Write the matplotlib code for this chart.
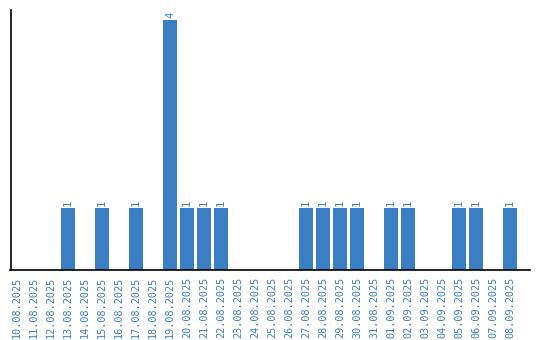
import numpy as np
import matplotlib
matplotlib.use('Agg')
import matplotlib.pyplot as plt

dates = ['10.08.2025', '11.08.2025', '12.08.2025', '13.08.2025', '14.08.2025',
         '15.08.2025', '16.08.2025', '17.08.2025', '18.08.2025', '19.08.2025',
         '20.08.2025', '21.08.2025', '22.08.2025', '23.08.2025', '24.08.2025',
         '25.08.2025', '26.08.2025', '27.08.2025', '28.08.2025', '29.08.2025',
         '30.08.2025', '31.08.2025', '01.09.2025', '02.09.2025', '03.09.2025',
         '04.09.2025', '05.09.2025', '06.09.2025', '07.09.2025', '08.09.2025']
counts = [0, 0, 0, 1, 0, 1, 0, 1, 0, 4,
          1, 1, 1, 0, 0, 0, 0, 1, 1, 1,
          1, 0, 1, 1, 0, 0, 1, 1, 0, 1]

blue = '#3a7fc4'
plt.rcParams['font.family'] = 'DejaVu Sans Mono'

fig = plt.figure(figsize=(5.4, 3.4), dpi=100)
ax = fig.add_axes([10.5/540, 70/340, 519.5/540, 260/340])
x = np.arange(len(dates))
ax.bar(x, counts, width=0.82, color=blue)
for xi, c in zip(x, counts):
    if c > 0:
        ax.text(xi, c + 0.03, str(c), rotation=90, ha='center', va='bottom',
                color=blue, fontsize=7.5)

ax.set_xlim(-0.38, len(dates) - 1 + 1.18)
ax.set_ylim(0, 4.16)
ax.set_xticks(x)
ax.set_xticklabels(dates, rotation=90, color=blue, fontsize=7.3)
ax.tick_params(axis='x', length=0, pad=5)
ax.set_yticks([])
ax.spines['top'].set_visible(False)
ax.spines['right'].set_visible(False)
ax.spines['left'].set_linewidth(1.2)
ax.spines['bottom'].set_linewidth(1.2)

fig.savefig('out.png', dpi=100)
